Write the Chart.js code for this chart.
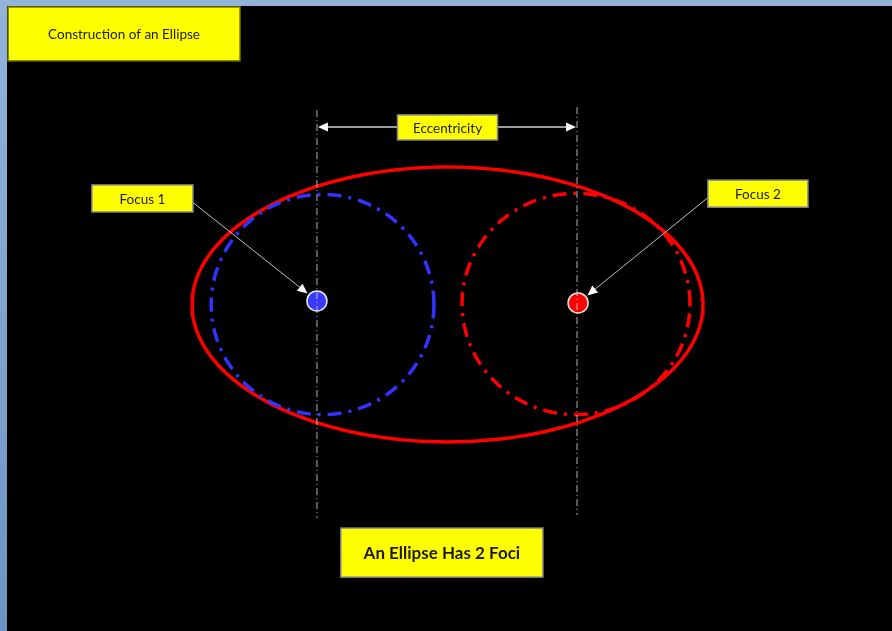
<!DOCTYPE html>
<html>
<head>
<meta charset="utf-8">
<script src="https://cdn.jsdelivr.net/npm/chart.js@4.4.1/dist/chart.umd.min.js"></script>
<style>
  html, body { margin: 0; padding: 0; }
  body {
    width: 892px; height: 631px; overflow: hidden; position: relative;
    background: linear-gradient(180deg, #93b3d8 0%, #6b94c4 100%);
  }
  #wrap { position: absolute; left: 7px; top: 6px; width: 885px; height: 625px; background: #000; }
</style>
</head>
<body>
<div id="wrap"><canvas id="chart-1" width="885" height="625"></canvas></div>
<script>
// outer ellipse and the two circles drawn round the foci
const shapeNames = ["Ellipse", "Circle 1", "Circle 2"];
const shapeCenterX = [0, -4.89, 5.03];
const shapeCenterY = [0, 0, 0.02];
const shapeRadiusX = [10, 4.36, 4.46];
const shapeRadiusY = [5.38, 4.31, 4.33];

const fociNames = ["Focus 1", "Focus 2"];
const fociX = [-5.11, 5.11];
const fociY = [0.14, 0.06];

// vertical guides through the foci
const guideX = [-5.11, 5.07];
const guideTop = [7.61, 7.73];
const guideBottom = [-8.36, -8.24];

const eccentricityY = 6.95;

const labelTexts = ["Construction of an Ellipse", "Eccentricity", "Focus 1", "Focus 2", "An Ellipse Has 2 Foci"];
const labelX = [-12.66, 0, -11.94, 12.15, -0.22];
const labelY = [10.59, 6.93, 4.15, 4.34, -9.71];

function curve(i) {
  let pts = [];
  for (let k = 0; k <= 180; k++) {
    let t = k / 180 * Math.PI * 2;
    pts.push({ x: shapeCenterX[i] + shapeRadiusX[i] * Math.cos(t), y: shapeCenterY[i] + shapeRadiusY[i] * Math.sin(t) });
  }
  return pts;
}

function head(ctx, x, y, ang) {
  ctx.beginPath();
  ctx.moveTo(x, y);
  ctx.lineTo(x - 10 * Math.cos(ang) + 4.5 * Math.sin(ang), y - 10 * Math.sin(ang) - 4.5 * Math.cos(ang));
  ctx.lineTo(x - 10 * Math.cos(ang) - 4.5 * Math.sin(ang), y - 10 * Math.sin(ang) + 4.5 * Math.cos(ang));
  ctx.closePath();
  ctx.fill();
}

const boxStyle = [
  { w: 232, h: 54, font: "13.5px Lato", border: "#6f6f00" },
  { w: 100, h: 25, font: "13.5px Lato", border: "#8c8c8c" },
  { w: 101, h: 27, font: "13.5px Lato", border: "#8c8c8c" },
  { w: 100, h: 27, font: "13.5px Lato", border: "#8c8c8c" },
  { w: 202, h: 49, font: "bold 17px Lato", border: "#8c8c8c" }
];

const annotate = {
  id: "annotate",
  afterDatasetsDraw(chart) {
    const ctx = chart.ctx;
    const px = v => chart.scales.x.getPixelForValue(v);
    const py = v => chart.scales.y.getPixelForValue(v);
    ctx.save();

    // eccentricity double arrow
    let ay = py(eccentricityY);
    let x1 = px(guideX[0]) + 1, x2 = px(guideX[1]) - 1;
    ctx.strokeStyle = "#d0d0d0";
    ctx.fillStyle = "#ffffff";
    ctx.lineWidth = 1.5;
    ctx.beginPath();
    ctx.moveTo(x1 + 8, ay);
    ctx.lineTo(x2 - 8, ay);
    ctx.stroke();
    head(ctx, x1, ay, Math.PI);
    head(ctx, x2, ay, 0);

    // leaders from focus labels
    for (let f = 0; f < 2; f++) {
      let b = boxStyle[2 + f];
      let sx = px(labelX[2 + f]) + (f === 0 ? b.w / 2 : -b.w / 2);
      let sy = py(labelY[2 + f]) + 4;
      let fx = px(fociX[f]), fy = py(fociY[f]);
      let ang = Math.atan2(fy - sy, fx - sx);
      let ex = fx - 12 * Math.cos(ang), ey = fy - 12 * Math.sin(ang);
      ctx.strokeStyle = "#c0c0c0";
      ctx.lineWidth = 1;
      ctx.beginPath();
      ctx.moveTo(sx, sy);
      ctx.lineTo(ex - 8 * Math.cos(ang), ey - 8 * Math.sin(ang));
      ctx.stroke();
      head(ctx, ex, ey, ang);
    }

    // yellow label boxes
    for (let i = 0; i < labelTexts.length; i++) {
      let s = boxStyle[i];
      let cx = px(labelX[i]), cy = py(labelY[i]);
      ctx.fillStyle = "#ffff00";
      ctx.fillRect(cx - s.w / 2, cy - s.h / 2, s.w, s.h);
      ctx.strokeStyle = s.border;
      ctx.lineWidth = 1.5;
      ctx.strokeRect(cx - s.w / 2, cy - s.h / 2, s.w, s.h);
      ctx.fillStyle = "#1a1a1a";
      ctx.font = s.font;
      ctx.textAlign = "center";
      ctx.textBaseline = "middle";
      ctx.fillText(labelTexts[i], cx, cy + 1);
    }
    ctx.restore();
  }
};

const dash = [14, 7, 3, 7];
let datasets = [
  { label: shapeNames[0], data: curve(0), showLine: true, pointRadius: 0, borderColor: "#ff0000", borderWidth: 3.5, order: 5 },
  { label: shapeNames[1], data: curve(1), showLine: true, pointRadius: 0, borderColor: "#3333ff", borderWidth: 3.5, borderDash: dash, order: 4 },
  { label: shapeNames[2], data: curve(2), showLine: true, pointRadius: 0, borderColor: "#ff0000", borderWidth: 3.5, borderDash: dash, order: 4 },
  {
    label: "Foci",
    data: fociX.map((v, i) => ({ x: v, y: fociY[i] })),
    pointRadius: 10,
    pointBackgroundColor: ["#3a3aff", "#ff0000"],
    pointBorderColor: "#e8e8e8",
    pointBorderWidth: 1.5,
    order: 3
  }
];
for (let g = 0; g < guideX.length; g++) {
  datasets.push({
    label: "Guide " + (g + 1),
    data: [{ x: guideX[g], y: guideTop[g] }, { x: guideX[g], y: guideBottom[g] }],
    showLine: true, pointRadius: 0,
    borderColor: "rgba(210,210,210,0.85)", borderWidth: 1, borderDash: [7, 3, 1, 3],
    order: 1
  });
}

new Chart(document.getElementById("chart-1"), {
  type: "scatter",
  data: { datasets: datasets },
  options: {
    responsive: false,
    animation: false,
    layout: { padding: 0, autoPadding: false },
    scales: {
      x: { type: "linear", min: -17.241, max: 17.397, display: false },
      y: { type: "linear", min: -12.779, max: 11.683, display: false }
    },
    plugins: { legend: { display: false }, tooltip: { enabled: false } },
    elements: { line: { tension: 0 } }
  },
  plugins: [annotate]
});
</script>
</body>
</html>
